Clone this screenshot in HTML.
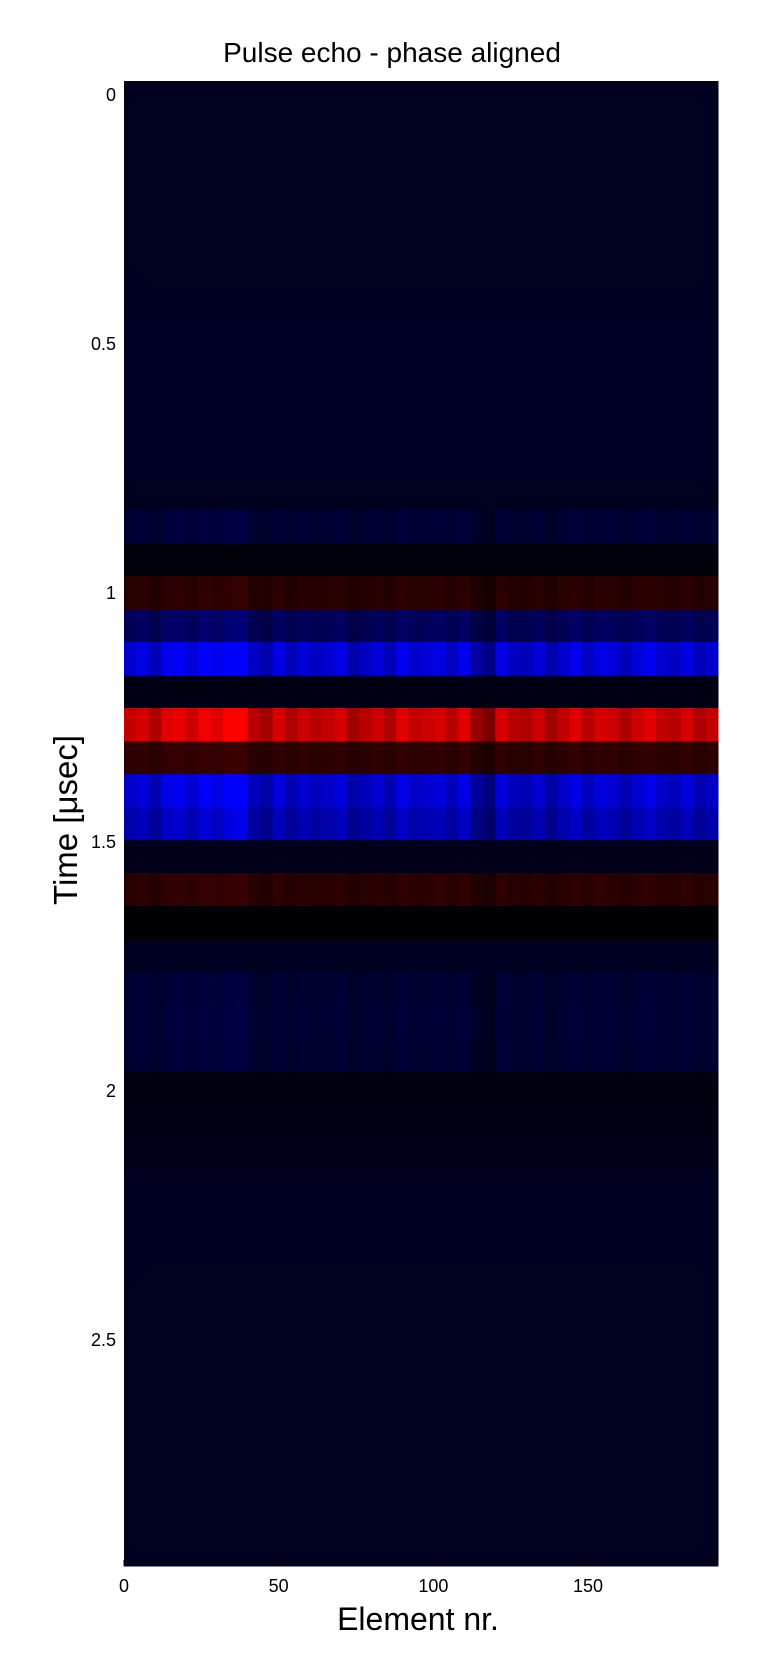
<!DOCTYPE html>
<html><head><meta charset="utf-8"><style>
html,body{margin:0;padding:0;background:#fff;}
svg{display:block;font-family:"Liberation Sans",sans-serif;}
</style></head><body>
<svg id="chart" width="762" height="1658">
<text x="392" y="62" font-size="28" text-anchor="middle">Pulse echo - phase aligned</text>
<g id="cells"></g>
<g id="axes"></g>
<text x="418" y="1630" font-size="32" text-anchor="middle">Element nr.</text>
<text transform="translate(77,820) rotate(-90)" font-size="33" text-anchor="middle">Time [μsec]</text>
</svg>
<script>
// signed amplitude per time row (45 rows, 0.0663 usec each); positive = red, negative = blue
const rowAmp = [-0.12,-0.12,-0.12,-0.12,-0.12,-0.12,-0.13,-0.145,-0.145,-0.14,-0.14,-0.14,-0.12,-0.21,-0.04,0.16,-0.36,-0.85,-0.08,0.8,0.18,-0.82,-0.7,-0.1,0.17,-0.02,-0.13,-0.2,-0.21,-0.2,-0.06,-0.08,-0.1,-0.13,-0.13,-0.13,-0.12,-0.12,-0.12,-0.12,-0.12,-0.12,-0.12,-0.12,-0.12];
// per-element gain (each value spans 4 elements)
const colGain = [0.95,1.05,0.85,1.1,1.15,1.0,1.2,1.1,1.25,1.3,0.9,0.8,1.05,0.85,1.0,0.9,0.95,1.05,0.8,0.9,1.0,0.85,1.1,0.95,1.0,1.05,0.9,1.1,0.75,0.6,1.05,0.9,0.85,1.0,0.8,0.95,1.1,0.9,1.05,1.0,0.85,1.0,1.1,0.95,0.9,1.05,0.85,0.95];
const xTicks = [0,50,100,150];
const yTicks = [0,0.5,1,1.5,2,2.5];
const yTickLabels = ["0","0.5","1","1.5","2","2.5"];
const nElem = 192;
const L=124, R=718, T=81, B=1566;
const xs = v => L + (v/nElem)*(R-L);
const t0 = 95, pxPerUs = 498;
const ys = t => t0 + t*pxPerUs;
const rowH = (B-T)/rowAmp.length;
const NS="http://www.w3.org/2000/svg";
const cells=document.getElementById('cells');
function color(v){
  v=Math.max(-1,Math.min(1,v));
  if(v<0) return `rgb(0,0,${Math.round(-v*255)})`;
  return `rgb(${Math.round(v*255)},0,0)`;
}
rowAmp.forEach((a,i)=>{
  for(let c=0;c<nElem;c+=4){
    const g=colGain[c/4];
    const r=document.createElementNS(NS,'rect');
    
    
    r.setAttribute('x',xs(c));
    r.setAttribute('y',T+i*rowH);
    r.setAttribute('width',xs(c+4)-xs(c)+0.5);
    r.setAttribute('height',rowH+0.5);
    const v = Math.abs(a)<0.15 ? a : a*g;
    r.setAttribute('fill',color(v));
    cells.appendChild(r);
  }
});
const axes=document.getElementById('axes');
xTicks.forEach(t=>{
  const tx=document.createElementNS(NS,'text');
  
  
  tx.setAttribute('x',xs(t)); tx.setAttribute('y',1592);
  tx.setAttribute('font-size','18'); tx.setAttribute('text-anchor','middle');
  tx.textContent=t; axes.appendChild(tx);
  const ln=document.createElementNS(NS,'line');
  
  
  ln.setAttribute('x1',xs(t)); ln.setAttribute('x2',xs(t));
  ln.setAttribute('y1',B); ln.setAttribute('y2',B-6); ln.setAttribute('stroke','#000');
  axes.appendChild(ln);
});
yTicks.forEach((t,i)=>{
  const tx=document.createElementNS(NS,'text');
  
  
  tx.setAttribute('x',L-8); tx.setAttribute('y',ys(t)+6);
  tx.setAttribute('font-size','18'); tx.setAttribute('text-anchor','end');
  tx.textContent=yTickLabels[i]; axes.appendChild(tx);
  const ln=document.createElementNS(NS,'line');
  
  
  ln.setAttribute('x1',L); ln.setAttribute('x2',L+6);
  ln.setAttribute('y1',ys(t)); ln.setAttribute('y2',ys(t)); ln.setAttribute('stroke','#000');
  axes.appendChild(ln);
});
</script>
</body></html>
